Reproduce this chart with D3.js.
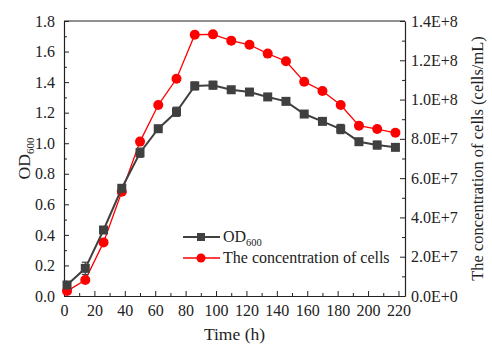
<!DOCTYPE html>
<html><head><meta charset="utf-8">
<script src="https://cdn.jsdelivr.net/npm/d3@7"></script>
<style>
body{margin:0;background:#fff;}
text{font-family:"Liberation Serif","Times New Roman",serif;fill:#222;}
</style></head>
<body><svg id="c" width="492" height="345"></svg>
<script>
const time = [2,14,26,38,50,62,74,86,98,110,122,134,146,158,170,182,194,206,218];
const od600 = [0.072,0.181,0.432,0.705,0.938,1.095,1.206,1.375,1.380,1.350,1.335,1.303,1.274,1.191,1.143,1.093,1.010,0.988,0.973];
const odErr = [0.02,0.04,0.015,0.02,0.03,0.015,0.03,0.025,0.025,0.01,0.01,0.01,0.01,0.01,0.01,0.03,0.015,0.025,0.01];
const cells = [2.5e6,8.1e6,2.73e7,5.31e7,7.86e7,9.72e7,1.106e8,1.330e8,1.332e8,1.300e8,1.279e8,1.234e8,1.195e8,1.091e8,1.044e8,9.72e7,8.67e7,8.50e7,8.31e7];
const xTicks = [0,20,40,60,80,100,120,140,160,180,200,220];
const yLeftTicks = [0,0.2,0.4,0.6,0.8,1.0,1.2,1.4,1.6,1.8];
const yRightTicks = [0,2e7,4e7,6e7,8e7,1e8,1.2e8,1.4e8];

const svg = d3.select("#c");
const L=64,R=405,T=21,B=296;
const x = d3.scaleLinear().domain([0,224.3]).range([L,R]);
const yL = d3.scaleLinear().domain([0,1.8]).range([B,T]);
const yR = d3.scaleLinear().domain([0,1.4e8]).range([B,T]);

function fmtE(v){ if(v===0) return "0.0E+0"; const e=Math.floor(Math.log10(v)+1e-9); return (v/Math.pow(10,e)).toFixed(1)+"E+"+e; }

// frame
svg.append("line").attr("x1",L).attr("x2",R).attr("y1",T).attr("y2",T).attr("stroke","#222").attr("stroke-width",1.2);

// bottom axis
const gx = svg.append("g").attr("transform",`translate(0,${B})`)
  .call(d3.axisBottom(x).tickValues(xTicks).tickSizeInner(-5).tickSizeOuter(0).tickPadding(9));
gx.selectAll(".tick text").attr("font-size",16).attr("dy","0.71em");
const gxm = svg.append("g").attr("transform",`translate(0,${B})`)
  .call(d3.axisBottom(x).tickValues(d3.range(10,224,20)).tickSizeInner(-3).tickSizeOuter(0).tickFormat(""));
gxm.select(".domain").remove();

// left axis
const gl = svg.append("g").attr("transform",`translate(${L},0)`)
  .call(d3.axisLeft(yL).tickValues(yLeftTicks).tickFormat(d3.format(".1f")).tickSizeInner(-5).tickSizeOuter(0).tickPadding(9));
gl.selectAll(".tick text").attr("font-size",16);
const glm = svg.append("g").attr("transform",`translate(${L},0)`)
  .call(d3.axisLeft(yL).tickValues(d3.range(0.1,1.8,0.2)).tickSizeInner(-3).tickSizeOuter(0).tickFormat(""));
glm.select(".domain").remove();

// right axis
const gr = svg.append("g").attr("transform",`translate(${R},0)`)
  .call(d3.axisRight(yR).tickValues(yRightTicks).tickFormat(fmtE).tickSizeInner(-5).tickSizeOuter(0).tickPadding(6));
gr.selectAll(".tick text").attr("font-size",16);
const grm = svg.append("g").attr("transform",`translate(${R},0)`)
  .call(d3.axisRight(yR).tickValues(d3.range(1e7,1.4e8,2e7)).tickSizeInner(-3).tickSizeOuter(0).tickFormat(""));
grm.select(".domain").remove();

svg.selectAll(".domain").attr("stroke","#222").attr("stroke-width",1.2);
svg.selectAll(".tick line").attr("stroke","#222");

// titles
svg.append("text").attr("x",(L+R)/2).attr("y",340).attr("text-anchor","middle").attr("font-size",17.5).text("Time (h)");
const tl = svg.append("text").attr("transform",`translate(30,${(T+B)/2}) rotate(-90)`).attr("text-anchor","middle").attr("font-size",17.5);
tl.append("tspan").text("OD");
tl.append("tspan").attr("font-size",11).attr("dy",4).text("600");
svg.append("text").attr("transform",`translate(483,${(T+B)/2}) rotate(-90)`).attr("text-anchor","middle").attr("font-size",16.5).text("The concentration of cells (cells/mL)");

// red series
const red="#ff0000", grey="#404040";
svg.append("path").datum(time.map((t,i)=>[t,cells[i]]))
  .attr("fill","none").attr("stroke",red).attr("stroke-width",1.3)
  .attr("d",d3.line().x(d=>x(d[0])).y(d=>yR(d[1])));
svg.selectAll("circle.c").data(time.map((t,i)=>[t,cells[i]])).enter().append("circle")
  .attr("cx",d=>x(d[0])).attr("cy",d=>yR(d[1])).attr("r",5).attr("fill",red);

// OD series
const odData = time.map((t,i)=>[t,od600[i],odErr[i]]);
svg.append("path").datum(odData).attr("fill","none").attr("stroke",grey).attr("stroke-width",2)
  .attr("d",d3.line().x(d=>x(d[0])).y(d=>yL(d[1])));
const eb = svg.selectAll("g.eb").data(odData).enter().append("g").attr("stroke",grey).attr("stroke-width",1.2);
eb.append("line").attr("x1",d=>x(d[0])).attr("x2",d=>x(d[0])).attr("y1",d=>yL(d[1]-d[2])).attr("y2",d=>yL(d[1]+d[2]));
eb.append("line").attr("x1",d=>x(d[0])-3.5).attr("x2",d=>x(d[0])+3.5).attr("y1",d=>yL(d[1]-d[2])).attr("y2",d=>yL(d[1]-d[2]));
eb.append("line").attr("x1",d=>x(d[0])-3.5).attr("x2",d=>x(d[0])+3.5).attr("y1",d=>yL(d[1]+d[2])).attr("y2",d=>yL(d[1]+d[2]));
svg.selectAll("rect.s").data(odData).enter().append("rect")
  .attr("x",d=>x(d[0])-4.5).attr("y",d=>yL(d[1])-4.5).attr("width",9).attr("height",9).attr("fill",grey);

// legend
const lg = svg.append("g");
lg.append("line").attr("x1",183).attr("x2",220).attr("y1",237).attr("y2",237).attr("stroke",grey).attr("stroke-width",2);
lg.append("rect").attr("x",197).attr("y",233).attr("width",8).attr("height",8).attr("fill",grey);
const lt = lg.append("text").attr("x",223).attr("y",242).attr("font-size",16);
lt.append("tspan").text("OD");
lt.append("tspan").attr("font-size",10.5).attr("dy",4).text("600");
lg.append("line").attr("x1",183).attr("x2",220).attr("y1",258).attr("y2",258).attr("stroke",red).attr("stroke-width",1.3);
lg.append("circle").attr("cx",201).attr("cy",258).attr("r",4.5).attr("fill",red);
lg.append("text").attr("x",223).attr("y",263).attr("font-size",16).text("The concentration of cells");
</script></body></html>
